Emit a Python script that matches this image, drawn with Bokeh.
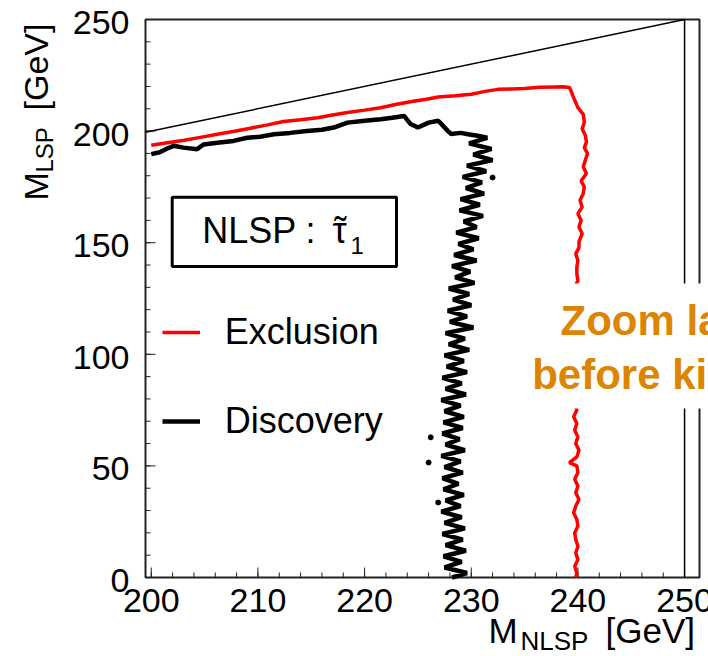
from bokeh.plotting import figure
from bokeh.models import Range1d, Label, BoxAnnotation, Legend, LegendItem
from bokeh.core.properties import value
from bokeh.embed import file_html
from bokeh.resources import INLINE
import math

# ---------------- data ----------------
x_ticks = [200, 210, 220, 230, 240, 250]
x_tick_labels = ["200", "210", "220", "230", "240", "250"]
x_minor = [200, 202, 204, 206, 208, 210, 212, 214, 216, 218, 220, 222, 224, 226, 228,
           230, 232, 234, 236, 238, 240, 242, 244, 246, 248, 250]
y_ticks = [0, 50, 100, 150, 200, 250]
y_tick_labels = ["0", "50", "100", "150", "200", "250"]
y_minor = [0, 10, 20, 30, 40, 50, 60, 70, 80, 90, 100, 110, 120, 130, 140, 150, 160,
           170, 180, 190, 200, 210, 220, 230, 240, 250]

# axis ranges of the drawn frame
X0, X1 = 199.46, 251.4
Y0, Y1 = 0.0, 250.0

# kinematic limit M_LSP = M_NLSP and M_NLSP edge
kin_x = [199.46, 250.0]
kin_y = [199.46, 250.0]
edge_x = [250.0, 250.0]
edge_y = [0.0, 250.0]

# Exclusion contour (red)
excl_x = [200.0, 201.5, 203.1, 204.6, 206.2, 207.8, 209.3, 210.9, 212.4, 214.0,
          215.6, 217.0, 218.4, 220.0, 221.5, 223.0, 224.7, 225.8, 226.9, 228.5,
          230.0, 231.3, 232.5, 233.8, 235.0, 236.4, 237.8, 238.6, 239.2, 239.4,
          239.6, 240.0, 240.5, 240.6, 240.4, 240.7, 240.8, 240.6, 240.9, 240.7,
          240.5, 240.8, 240.3, 240.6, 240.5, 240.2, 240.4, 240.0, 240.3, 240.1,
          240.4, 240.1, 240.1, 239.8, 240.0, 239.9, 239.9, 240.0, 239.7, 239.8,
          240.1, 239.8, 240.0, 239.7, 240.0, 239.8, 240.1, 239.7, 239.9, 239.6,
          239.9, 239.7, 240.0, 239.8, 240.1, 239.9, 239.2, 239.9, 240.0, 239.7,
          240.0, 239.8, 240.1, 239.8, 239.6, 239.9, 240.0, 239.7, 239.8, 240.0,
          239.8, 240.0, 239.7, 239.9, 239.8]
excl_y = [193.7, 194.8, 195.9, 197.2, 198.6, 199.9, 201.3, 202.8, 204.3, 205.1,
          206.0, 207.2, 208.3, 209.4, 210.5, 212.0, 213.5, 214.3, 215.3, 215.8,
          216.5, 217.8, 218.7, 218.9, 219.1, 219.6, 219.8, 219.9, 219.5, 217.5,
          215.0, 210.5, 207.5, 204.0, 201.0, 198.0, 195.0, 192.6, 190.0, 187.0,
          184.0, 181.0, 177.7, 175.0, 172.0, 169.0, 166.0, 163.0, 160.0, 157.0,
          154.0, 150.5, 147.8, 145.0, 142.0, 139.0, 136.0, 133.0, 130.0, 126.0,
          120.0, 114.0, 108.0, 102.0, 96.0, 90.0, 84.0, 78.0, 75.0, 72.0,
          69.0, 66.0, 63.0, 60.0, 57.0, 54.0, 51.5, 50.0, 47.0, 44.0,
          41.0, 38.0, 35.0, 32.0, 29.0, 26.0, 23.0, 20.0, 17.0, 14.0,
          11.0, 8.0, 5.0, 2.0, 0.0]

# Discovery contour (black)
disc_x = [200.0, 200.8, 201.5, 202.1, 203.0, 204.3, 204.9, 206.2, 207.7, 209.0,
          210.2, 211.5, 213.0, 214.6, 216.0, 217.1, 218.4, 219.8, 221.5, 222.6,
          223.7, 224.3, 225.0, 226.0, 226.9, 227.2, 227.8, 228.1, 229.0, 229.7,
          230.6,
          231.5, 229.8, 231.9, 230.2, 232.0, 229.6, 231.4, 229.2, 231.0, 229.5,
          231.2, 229.0, 230.8, 228.9, 231.1, 229.3, 230.5, 228.6, 230.7, 228.8,
          230.2, 228.4, 230.5, 228.2, 229.9, 228.5, 230.3, 227.9, 229.8, 228.3,
          230.0, 227.8, 229.6, 228.0, 230.2, 227.6, 229.4, 227.9, 229.8, 227.5,
          229.3, 227.7, 229.6, 227.3, 229.1, 227.6, 229.5, 227.2, 229.0, 227.5,
          229.3, 227.4, 229.2, 227.3, 228.9, 227.6, 229.4, 227.2, 229.0, 227.5,
          229.2, 227.3, 228.8, 227.4, 229.3, 227.6, 229.0, 227.2, 229.1, 227.5,
          229.4, 227.3, 229.2, 227.6, 229.5, 227.4, 229.1, 227.5, 229.6, 228.2]
disc_y = [189.7, 190.5, 192.2, 193.4, 192.6, 191.9, 194.0, 194.8, 195.6, 197.0,
          197.5, 198.6, 199.2, 200.0, 200.6, 201.6, 203.8, 204.5, 205.3, 206.0,
          206.8, 203.2, 201.6, 203.8, 204.6, 203.2, 200.1, 198.7, 199.2, 198.6,
          197.9,
          197.0, 194.5, 192.0, 189.5, 187.0, 184.5, 182.0, 179.5, 177.0, 174.5,
          172.0, 169.5, 167.0, 164.5, 162.0, 159.5, 157.0, 154.5, 152.0, 149.5,
          147.0, 144.5, 142.0, 139.5, 137.0, 134.5, 132.0, 129.5, 127.0, 124.5,
          122.0, 119.5, 117.0, 114.5, 112.0, 109.5, 107.0, 104.5, 102.0, 99.5,
          97.0, 94.5, 92.0, 89.5, 87.0, 84.5, 82.0, 79.5, 77.0, 74.5,
          72.0, 69.5, 67.0, 64.5, 62.0, 59.5, 57.0, 54.5, 52.0, 49.5,
          47.0, 44.5, 42.0, 39.5, 37.0, 34.5, 32.0, 29.5, 27.0, 24.5,
          22.0, 19.5, 17.0, 14.5, 12.0, 9.5, 7.0, 4.5, 2.0, 0.0]

# isolated discovery points
stray_x = [226.2, 226.0, 226.9, 232.0]
stray_y = [62.8, 51.5, 33.6, 179.2]

# ---------------- layout ----------------
W, H = 708, 656
FL, FR, FT, FB = 145, 699, 19, 577          # pixel box of the drawn frame
KX = (X1 - X0) / (FR - FL)                  # GeV per pixel, x
KY = (Y1 - Y0) / (FB - FT)                  # GeV per pixel, y
XA, XB = X0 - FL * KX, X1 + (W - FR) * KX   # canvas-wide ranges
YA, YB = Y0 - (H - FB) * KY, Y1 + FT * KY

FONT = "Liberation Sans"

p = figure(width=W, height=H, x_range=Range1d(XA, XB), y_range=Range1d(YA, YB),
           output_backend="svg", toolbar_location=None, title=None,
           x_axis_location=None, y_axis_location=None,
           min_border_left=0, min_border_right=0, min_border_top=0, min_border_bottom=0)
p.background_fill_color = "white"
p.border_fill_color = "white"
p.outline_line_color = None
p.xgrid.visible = False
p.ygrid.visible = False

AX = "#222222"
# frame
p.add_layout(BoxAnnotation(left=X0, right=X1, bottom=Y0, top=Y1, fill_color=None, fill_alpha=0,
                           line_color=AX, line_alpha=1.0, line_width=2, level="underlay"))

# ticks (inside), bottom and left only
p.segment(x0=x_ticks, y0=[Y0] * len(x_ticks), x1=x_ticks, y1=[Y0 + 10 * KY] * len(x_ticks),
          line_color=AX, line_width=1)
p.segment(x0=x_minor, y0=[Y0] * len(x_minor), x1=x_minor, y1=[Y0 + 5 * KY] * len(x_minor),
          line_color=AX, line_width=1)
p.segment(x0=[X0] * len(y_ticks), y0=y_ticks, x1=[X0 + 10 * KX] * len(y_ticks), y1=y_ticks,
          line_color=AX, line_width=1)
p.segment(x0=[X0] * len(y_minor), y0=y_minor, x1=[X0 + 5 * KX] * len(y_minor), y1=y_minor,
          line_color=AX, line_width=1)

# tick labels
p.text(x=x_ticks, y=[Y0] * len(x_ticks), text=x_tick_labels, text_font=value(FONT),
       text_font_size="34px", text_color="black", text_align="center",
       text_baseline="middle", y_offset=23)
p.text(x=[X0] * len(y_ticks), y=y_ticks, text=y_tick_labels, text_font=value(FONT),
       text_font_size="34px", text_color="black", text_align="right",
       text_baseline="middle", x_offset=-16, y_offset=3)

# kinematic limits
p.line(kin_x, kin_y, line_color="black", line_width=1.5)
p.line(edge_x, edge_y, line_color="black", line_width=1.5)

# contours
red = p.line(excl_x, excl_y, line_color="#ff0000", line_width=3.5)
blk = p.line(disc_x, disc_y, line_color="black", line_width=4.5)
p.scatter(stray_x, stray_y, size=5, color="black")


def dxp(px):
    return XA + px * KX


def dyp(py):
    return YB - py * KY


# NLSP box
p.add_layout(BoxAnnotation(left=dxp(171.7), right=dxp(396), top=dyp(196.7), bottom=dyp(266),
                           fill_color=None, fill_alpha=0, line_color="black",
                           line_alpha=1.0, line_width=3))


def lab(px, py, text, size, **kw):
    """px, py: start of text and its baseline, in canvas pixels (top-left origin)."""
    mid = 0.35 * size
    ang = kw.get("angle", 0)
    if ang:
        x, y = px - mid, H - py
    else:
        x, y = px, H - (py - mid)
    opts = dict(x=x, y=y, x_units="screen", y_units="screen", text=text,
                text_font=FONT, text_font_size=f"{size}px", text_color="black",
                text_baseline="middle")
    opts.update(kw)
    p.add_layout(Label(**opts))


lab(201.7, 243, "NLSP :", 36)
lab(332, 243, "τ", 36)
lab(340, 243, "˜", 36, text_align="center")
lab(350, 253, "1", 24)

# legend
legend = Legend(items=[LegendItem(label="Exclusion", renderers=[red]),
                       LegendItem(label="Discovery", renderers=[blk])],
                location=(161.7, H - 445.7), label_text_font=FONT, label_text_font_size="36px",
                label_text_color="black",
                glyph_width=38, glyph_height=50, label_height=50, spacing=39,
                label_standoff=25, padding=0, margin=0, border_line_color=None,
                background_fill_alpha=0)
p.add_layout(legend)

# overlay note box
p.add_layout(BoxAnnotation(left=dxp(525), right=dxp(720), bottom=dyp(408), top=dyp(283),
                           fill_color="white", fill_alpha=1.0, line_alpha=0, level="overlay"))
lab(560, 335, "Zoom la", 42, text_font_style="bold", text_color="#dd8400", level="overlay")
lab(531.7, 388.3, "before ki", 42, text_font_style="bold", text_color="#dd8400",
    level="overlay")

# axis titles
lab(488, 642, "M", 35)
lab(520, 650, "NLSP", 26)
lab(605, 642, "[GeV]", 35)

lab(47, 200, "M", 34, angle=math.pi / 2)
lab(52, 172, "LSP", 24, angle=math.pi / 2)
lab(47, 110, "[GeV]", 34, angle=math.pi / 2)

open("out.html", "w").write(file_html(p, INLINE))
